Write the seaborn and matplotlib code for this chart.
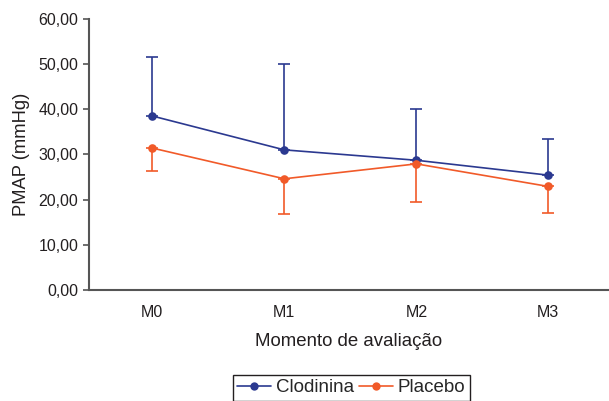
import pandas as pd
import matplotlib
matplotlib.use("Agg")
import matplotlib.pyplot as plt
from matplotlib.ticker import FuncFormatter
import seaborn as sns

# Data
momentos = ["M0", "M1", "M2", "M3"]
clodinina = [38.5, 31.0, 28.7, 25.4]
clodinina_sd = [13.0, 19.0, 11.3, 8.1]    # upper bars only
placebo = [31.4, 24.6, 27.9, 22.9]
placebo_sd = [5.1, 7.8, 8.4, 5.8]         # lower bars only

blue = "#2B3990"
orange = "#F15A29"

df = pd.DataFrame({
    "Momento": momentos * 2,
    "PMAP": clodinina + placebo,
    "Grupo": ["Clodinina"] * 4 + ["Placebo"] * 4,
})

sns.set_style("ticks")
plt.rcParams["font.family"] = ["Liberation Sans", "DejaVu Sans"]

fig = plt.figure(figsize=(6.09, 4.01), dpi=100)
ax = fig.add_axes([0.146, 0.277, 0.852, 0.676])

sns.lineplot(data=df, x="Momento", y="PMAP", hue="Grupo",
             palette={"Clodinina": blue, "Placebo": orange},
             marker="o", markersize=6.2, markeredgewidth=0, linewidth=1.2,
             ax=ax, legend=True, zorder=3)

pos = range(len(momentos))
ax.errorbar(pos, clodinina, yerr=[[0] * 4, clodinina_sd], fmt="none",
            ecolor=blue, elinewidth=1.2, capsize=4, capthick=1.2, zorder=2)
ax.errorbar(pos, placebo, yerr=[placebo_sd, [0] * 4], fmt="none",
            ecolor=orange, elinewidth=1.2, capsize=4, capthick=1.2, zorder=2)

ax.set_xlim(-0.48, 3.45)
ax.set_ylim(0, 60)
ax.set_yticks(range(0, 61, 10))
ax.yaxis.set_major_formatter(FuncFormatter(lambda v, p: f"{v:.2f}".replace(".", ",")))

ax.set_xlabel("Momento de avaliação", fontsize=13.4, color="#231F20", labelpad=9)
ax.set_ylabel("PMAP (mmHg)", fontsize=13.2, color="#231F20", labelpad=6)
ax.tick_params(axis="y", labelsize=11.5, colors="#231F20", length=4, width=1.2, color="#555555")
ax.tick_params(axis="x", labelsize=11.5, colors="#231F20", length=0, pad=11)

sns.despine(ax=ax)
for s in ["left", "bottom"]:
    ax.spines[s].set_color("#555555")
    ax.spines[s].set_linewidth(1.5)

handles, labels = ax.get_legend_handles_labels()
for h in handles:
    h.set_markersize(6)
ax.legend(handles, labels, loc="upper center", bbox_to_anchor=(0.577, 0.066),
          bbox_transform=fig.transFigure, ncol=2, frameon=True, fancybox=False,
          edgecolor="#231F20", fontsize=13.5, handlelength=1.8, handletextpad=0.25,
          columnspacing=0.3, borderpad=0.25, borderaxespad=0, framealpha=1)
ax.get_legend().get_frame().set_linewidth(1.0)

fig.savefig("out.png", dpi=100)
